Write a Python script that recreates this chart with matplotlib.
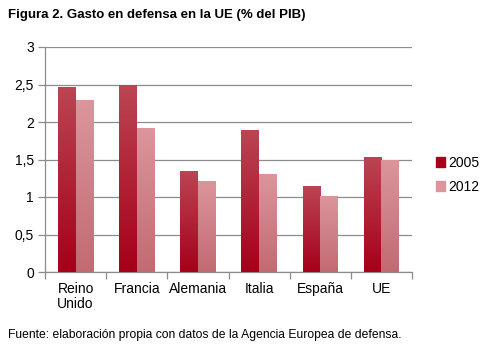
import matplotlib.pyplot as plt
import numpy as np
from matplotlib.colors import LinearSegmentedColormap

plt.rcParams['font.family'] = ['Liberation Sans', 'DejaVu Sans']

categories = ["Reino\nUnido", "Francia", "Alemania", "Italia", "España", "UE"]
years = ["2005", "2012"]
gasto_2005 = [2.47, 2.49, 1.35, 1.89, 1.15, 1.54]
gasto_2012 = [2.29, 1.92, 1.22, 1.31, 1.01, 1.49]

# top colour, bottom colour for each series
grad_2005 = ["#bb4553", "#a6001a"]
grad_2012 = ["#dc959c", "#c26a72"]

fig = plt.figure(figsize=(4.8, 3.5), dpi=100)
ax = fig.add_axes([45 / 480, 1 - 272 / 350, 367 / 480, 225 / 350])

x = np.arange(len(categories))
width = 0.29


def gradient_bars(xpos, values, colors):
    cmap = LinearSegmentedColormap.from_list("g", [colors[1], colors[0]])
    bars = ax.bar(xpos, values, width, color=colors[1], zorder=2)
    grad = np.linspace(0, 1, 100).reshape(-1, 1)
    for bar in bars:
        x0, y0 = bar.get_x(), bar.get_y()
        im = ax.imshow(grad, cmap=cmap, aspect="auto", origin="lower",
                       extent=[x0, x0 + bar.get_width(), y0, y0 + bar.get_height()],
                       zorder=3)
        im.set_clip_path(bar)
    return bars


gradient_bars(x - width / 2, gasto_2005, grad_2005)
gradient_bars(x + width / 2, gasto_2012, grad_2012)

ax.set_xlim(-0.5, len(categories) - 0.5)
ax.set_ylim(0, 3)
ax.set_yticks(np.arange(0, 3.01, 0.5))
ax.set_yticklabels(["0", "0,5", "1", "1,5", "2", "2,5", "3"])
ax.yaxis.grid(True, color="#8c8c8c", linewidth=0.9, zorder=0)
ax.set_axisbelow(True)

ax.set_xticks(x)
ax.set_xticklabels(categories, fontsize=10, linespacing=1.1)
ax.tick_params(axis="x", length=0, pad=7)
ax.set_xticks(np.arange(-0.5, len(categories), 1), minor=True)
ax.tick_params(axis="x", which="minor", length=5, color="#8c8c8c", width=0.9)
ax.tick_params(axis="y", length=5, color="#8c8c8c", width=0.9, labelsize=10, pad=3)

for side in ["top", "right"]:
    ax.spines[side].set_visible(False)
for side in ["left", "bottom"]:
    ax.spines[side].set_color("#8c8c8c")
    ax.spines[side].set_linewidth(0.9)

handles = [plt.Rectangle((0, 0), 1, 1, color=grad_2005[1]),
           plt.Rectangle((0, 0), 1, 1, color=grad_2012[0])]
fig.legend(handles, years, loc="center left", bbox_to_anchor=(423 / 480, 1 - 175 / 350),
           frameon=False, fontsize=10, handlelength=0.7, handleheight=0.7,
           handletextpad=0.2, labelspacing=0.75)

fig.text(8 / 480, 1 - 15 / 350, "Figura 2. Gasto en defensa en la UE (% del PIB)",
         fontsize=9.5, fontweight="bold", va="center")
fig.text(8 / 480, 1 - 335 / 350,
         "Fuente: elaboración propia con datos de la Agencia Europea de defensa.",
         fontsize=8.7, va="center")

fig.savefig("out.png", dpi=100)
